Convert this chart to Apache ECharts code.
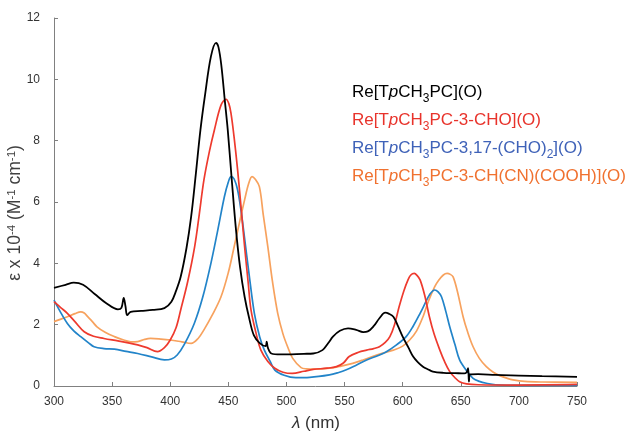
<!DOCTYPE html>
<html><head><meta charset="utf-8">
<script src="https://cdn.jsdelivr.net/npm/echarts@6/dist/echarts.min.js"></script>
<style>html,body{margin:0;padding:0;background:#fff}#c{width:628px;height:436px}</style>
</head><body><div id="c"></div>
<script>
var xTicks = [300,350,400,450,500,550,600,650,700,750];
var yTicks = [0,2,4,6,8,10,12];
var names = ['Re[TpCH3PC](O)','Re[TpCH3PC-3-CHO](O)','Re[TpCH3PC-3,17-(CHO)2](O)','Re[TpCH3PC-3-CH(CN)(COOH)](O)'];
var blackX = [300,310,317,325,335,345,355,358,360,361.5,363,366,375,385,395,401,405,409,414,418,422,426,430,435,439.4,441.5,444,447,449.5,453,456.6,460,464,468,472,477,482,483,484,487,495,515,523,531,536,540,546,553,560,566,570,575,580,585,588,592,596,600,605,609,613,617.5,622,626,635,645,653,655,656.3,657,658,665,680,700,720,750];
var blackY = [3.2,3.3,3.37,3.3,3.0,2.7,2.5,2.55,2.87,2.6,2.31,2.42,2.45,2.48,2.54,2.75,3.1,3.56,4.5,5.52,6.9,8.35,9.5,10.74,11.19,11.05,10.45,9.3,8.35,6.7,5.09,3.9,2.91,2.2,1.65,1.4,1.3,1.45,1.25,1.06,1.03,1.05,1.06,1.17,1.4,1.61,1.8,1.88,1.83,1.76,1.78,1.95,2.21,2.39,2.36,2.26,1.95,1.61,1.25,0.96,0.78,0.63,0.54,0.47,0.43,0.42,0.41,0.45,0.58,0.14,0.38,0.39,0.36,0.34,0.32,0.3];
var redX = [300,306,311.5,318,326,334,343,355,365,372,380,389,395,400,405,409,415,421,425,429,434,438,443.7,448,450.5,452.3,455,458,461,464,467,469.5,474,478,484,490,497,505,515,523,535,543,549,554,562,569,575,580,585,589,593,597,601,604.6,607,610,612.5,615,619,623,627,632,636,640.5,645,649,655,665,700,750];
var redY = [2.75,2.55,2.37,2.1,1.77,1.62,1.55,1.47,1.4,1.34,1.25,1.12,1.25,1.5,1.9,2.48,3.4,4.54,5.6,6.72,7.7,8.35,9.16,9.35,9.2,8.89,8.1,7.04,5.8,4.54,3.4,2.48,1.7,1.17,0.8,0.58,0.45,0.41,0.48,0.54,0.58,0.63,0.75,0.96,1.1,1.17,1.22,1.28,1.42,1.61,2.0,2.59,3.1,3.46,3.62,3.67,3.6,3.46,2.95,2.26,1.7,1.17,0.8,0.47,0.27,0.14,0.07,0.04,0.03,0.05];
var blueX = [300,305,311.5,317,323,330,334.5,343,352,362,372,384,395,401,406,412,420.7,428,435,441,446.6,450,452.3,455,458,461,463.8,468,472.4,477,481,486,490,498,508,520,537,545,551,560,569,578,586,595,603,609,615,620,623,627.6,630.5,633.4,637,640.5,645,649,655,660.6,666,672,680,700,750];
var blueY = [2.8,2.45,2.04,1.8,1.61,1.4,1.28,1.22,1.2,1.13,1.06,0.95,0.85,0.88,1.01,1.35,2.04,2.9,4.0,5.1,6.17,6.65,6.83,6.75,6.39,5.7,4.87,3.6,2.37,1.6,1.17,0.8,0.52,0.35,0.27,0.28,0.36,0.44,0.52,0.68,0.85,0.98,1.12,1.35,1.61,1.95,2.37,2.75,2.97,3.13,3.07,2.91,2.45,1.93,1.35,0.85,0.5,0.25,0.15,0.09,0.04,0.02,0.02];
var orangeX = [300,306,311.5,318,323,326,329,333,337,344,352,360,366,372,378,383,392,400,410,418,424,429,436,443.7,450,455,460,464,467.5,470.4,473,476.7,480,484,488,492.5,497,501,505.4,512.6,517,525,537,547,557,566,574,583,592,600,606,612,617.5,622,627.6,631,635,638.2,641,643.4,647,652,656,660.6,666,672,678,684,690,695,705,720,750];
var orangeY = [2.1,2.18,2.26,2.36,2.42,2.38,2.26,2.1,1.93,1.75,1.61,1.5,1.44,1.45,1.52,1.55,1.53,1.5,1.44,1.39,1.55,1.83,2.3,2.91,3.7,4.54,5.4,6.07,6.6,6.83,6.75,6.5,5.6,4.54,3.4,2.37,1.7,1.28,0.9,0.6,0.56,0.55,0.58,0.65,0.74,0.85,0.96,1.07,1.17,1.3,1.5,1.8,2.26,2.75,3.24,3.45,3.62,3.67,3.64,3.56,3.1,2.26,1.75,1.28,0.9,0.63,0.45,0.33,0.25,0.2,0.15,0.13,0.12];

function pairs(xs, ys){ return xs.map(function(x,i){ return [x, ys[i]]; }); }
var lineColors = ['#000000','#ee3a2e','#2284c9','#f7a25e'];
var textColors = ['#000000','#e8332b','#3f62b8','#f0712f'];
var seriesData = [pairs(blackX,blackY), pairs(redX,redY), pairs(blueX,blueY), pairs(orangeX,orangeY)];

var chart = echarts.init(document.getElementById('c'), null, {renderer:'canvas'});
var FONT = '"Liberation Sans", Arial, sans-serif';
function richBase(col){
  return {
    n: {fontSize: 17, fill: col, fontFamily: FONT, lineHeight: 20, verticalAlign: 'bottom'},
    i: {fontSize: 17, fill: col, fontFamily: FONT, fontStyle: 'italic', lineHeight: 20, verticalAlign: 'bottom'},
    s: {fontSize: 12, fill: col, fontFamily: FONT, lineHeight: 14, verticalAlign: 'bottom', padding: [0,0,-4,0]}
  };
}
function legendText(name){
  var s = name.replace('Tp', 'T}{i|p}{n|').replace('CH3', 'CH}{s|3}{n|').replace('(CHO)2', '(CHO)}{s|2}{n|');
  return '{n|' + s + '}';
}
var legendY = [91, 119, 147, 175];
var graphics = names.map(function(nm, k){
  return {type:'text', x: 352, y: legendY[k], silent: true,
    style: {text: legendText(nm), rich: richBase(textColors[k]), verticalAlign: 'middle', align: 'left'}};
});
graphics.push({type:'text', x: 16, y: 213, rotation: Math.PI/2, silent: true,
  style: {text: '{n|ε x 10}{p|-4}{n| (M}{p|-1}{n| cm}{p|-1}{n|)}', align: 'center', verticalAlign: 'middle',
    rich: {
      n: {fontSize: 17.5, fill: '#404040', fontFamily: FONT, lineHeight: 20, verticalAlign: 'top'},
      p: {fontSize: 11.5, fill: '#404040', fontFamily: FONT, lineHeight: 13, verticalAlign: 'top'}
    }}});
graphics.push({type:'text', x: 316, y: 423, silent: true,
  style: {text: '{i|λ}{n| (nm)}', align: 'center', verticalAlign: 'middle',
    rich: {
      n: {fontSize: 17, fill: '#333', fontFamily: FONT},
      i: {fontSize: 17, fill: '#333', fontFamily: FONT, fontStyle: 'italic'}
    }}});

chart.setOption({
  animation: false,
  backgroundColor: '#fff',
  grid: {left: 54, right: 51, top: 18, bottom: 50, containLabel: false},
  xAxis: {type: 'value', min: xTicks[0], max: xTicks[xTicks.length-1], interval: 50,
    axisLine: {lineStyle: {color: '#808080', width: 1}},
    axisTick: {inside: true, length: 4, lineStyle: {color: '#808080'}},
    axisLabel: {color: '#333', fontSize: 12, fontFamily: FONT, margin: 10},
    splitLine: {show: false}},
  yAxis: {type: 'value', min: yTicks[0], max: yTicks[yTicks.length-1], interval: 2,
    axisLine: {show: true, lineStyle: {color: '#808080', width: 1}},
    axisTick: {show: true, inside: true, length: 4, lineStyle: {color: '#808080'}},
    axisLabel: {color: '#333', fontSize: 12, fontFamily: FONT, margin: 14},
    splitLine: {show: false}},
  graphic: graphics,
  series: seriesData.map(function(d, k){
    return {type: 'line', name: names[k], data: d, showSymbol: false, symbol: 'none',
      smooth: 0.35,
      lineStyle: {color: lineColors[k], width: k === 0 ? 1.8 : 1.7}, z: 10 - k};
  })
});
</script></body></html>
